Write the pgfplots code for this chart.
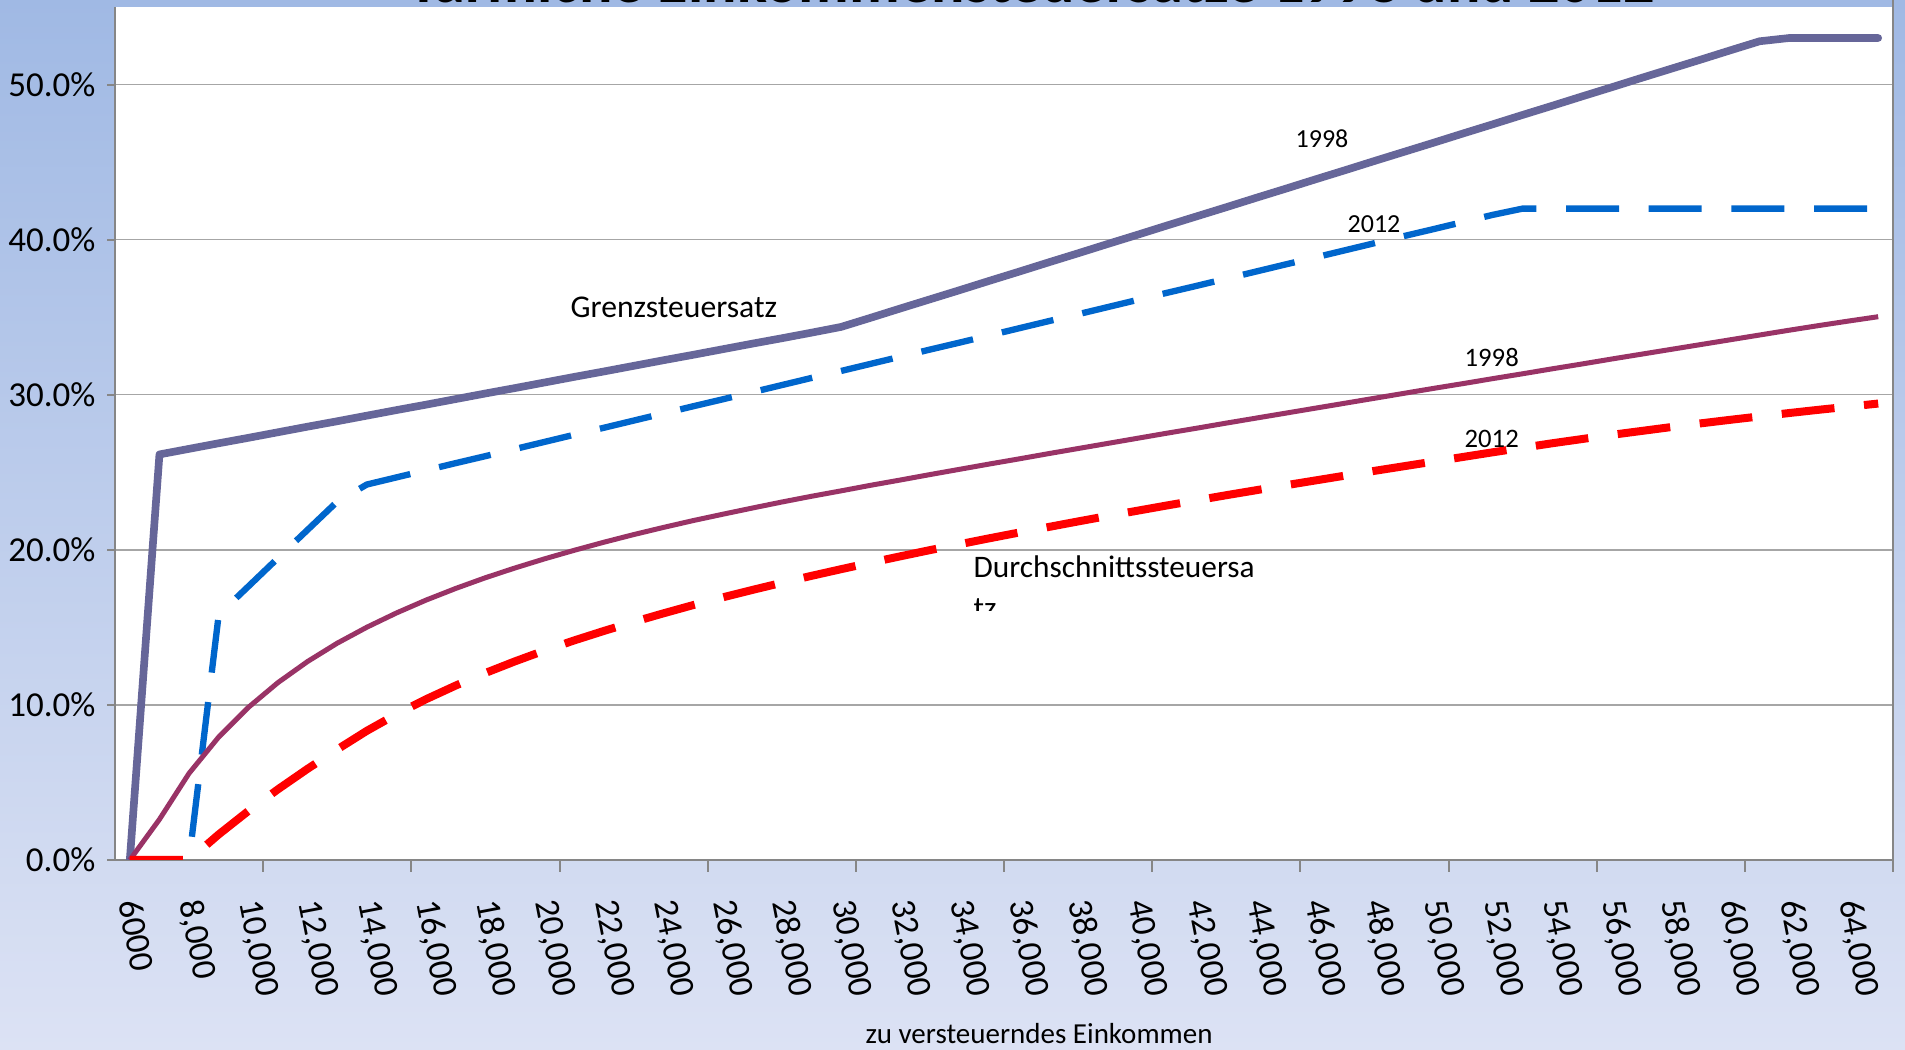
\documentclass[border=0pt]{standalone}
\usepackage{fontspec}
\setmainfont{Carlito}
\usepackage{pgfplots}
\pgfplotsset{compat=1.18}
\usepackage{pgfplotstable}

\definecolor{bgtop}{RGB}{160,185,228}
\definecolor{bgbot}{RGB}{220,226,244}
\definecolor{grenzalt}{RGB}{102,102,153}
\definecolor{grenzneu}{RGB}{0,102,204}
\definecolor{durchalt}{RGB}{153,51,102}
\definecolor{durchneu}{RGB}{255,0,0}
\definecolor{gridgray}{RGB}{166,166,166}
\definecolor{axisgray}{RGB}{134,134,134}

% income in EUR; marginal (g) and average (a) tax rates in percent, 1998 and 2012
\pgfplotstableread{
inc g98 g12 a98 a12
6000 0 0 0 0
7000 26.15 0 2.62 0
8000 26.51 0 5.59 0
9000 26.87 15.82 7.93 1.65
10000 27.22 17.64 9.84 3.16
11000 27.58 19.47 11.44 4.56
12000 27.94 21.29 12.80 5.88
13000 28.29 23.11 13.98 7.13
14000 28.65 24.21 15.01 8.33
15000 29.01 24.67 15.93 9.40
16000 29.36 25.13 16.76 10.37
17000 29.72 25.59 17.51 11.25
18000 30.08 26.04 18.20 12.06
19000 30.43 26.50 18.83 12.81
20000 30.79 26.96 19.42 13.51
21000 31.15 27.42 19.97 14.16
22000 31.50 27.87 20.49 14.77
23000 31.86 28.33 20.98 15.35
24000 32.22 28.79 21.44 15.90
25000 32.57 29.25 21.88 16.43
26000 32.93 29.70 22.29 16.93
27000 33.29 30.16 22.69 17.41
28000 33.64 30.62 23.08 17.87
29000 34.00 31.08 23.45 18.32
30000 34.37 31.53 23.80 18.75
31000 34.96 31.99 24.16 19.17
32000 35.56 32.45 24.50 19.58
33000 36.15 32.91 24.85 19.98
34000 36.74 33.36 25.19 20.36
35000 37.34 33.82 25.53 20.74
36000 37.93 34.28 25.86 21.11
37000 38.53 34.74 26.20 21.47
38000 39.12 35.19 26.53 21.83
39000 39.72 35.65 26.86 22.18
40000 40.31 36.11 27.19 22.52
41000 40.91 36.57 27.52 22.86
42000 41.50 37.02 27.84 23.19
43000 42.09 37.48 28.17 23.52
44000 42.69 37.94 28.49 23.84
45000 43.28 38.40 28.81 24.16
46000 43.88 38.85 29.13 24.47
47000 44.47 39.31 29.45 24.78
48000 45.07 39.77 29.77 25.09
49000 45.66 40.23 30.09 25.39
50000 46.25 40.68 30.41 25.69
51000 46.85 41.14 30.72 25.99
52000 47.44 41.60 31.04 26.29
53000 48.04 42.00 31.35 26.58
54000 48.63 42.00 31.67 26.87
55000 49.23 42.00 31.98 27.14
56000 49.82 42.00 32.30 27.41
57000 50.42 42.00 32.61 27.66
58000 51.01 42.00 32.92 27.91
59000 51.60 42.00 33.23 28.15
60000 52.20 42.00 33.54 28.38
61000 52.79 42.00 33.85 28.60
62000 53.00 42.00 34.16 28.82
63000 53.00 42.00 34.46 29.03
64000 53.00 42.00 34.75 29.23
65000 53.00 42.00 35.03 29.43
}\tarif

\begin{document}
\begin{tikzpicture}
\useasboundingbox (0,0) rectangle (571.5pt,315pt);
\shade[top color=bgtop, bottom color=bgbot] (0,0) rectangle (571.5pt,315pt);

\begin{axis}[
  at={(34.5pt,57pt)}, anchor=south west,
  scale only axis, width=533.4pt, height=255.9pt,
  xmin=5500, xmax=65500, ymin=0, ymax=55,
  axis x line*=bottom, axis y line*=left,
  axis line style={draw=axisgray, line width=0.6pt},
  axis background/.style={fill=white},
  tick align=outside,
  major tick length=2.4pt, minor tick length=3.6pt,
  xtick={6000,8000,...,64000},
  xticklabels={6000,{8,000},{10,000},{12,000},{14,000},{16,000},{18,000},{20,000},{22,000},{24,000},{26,000},{28,000},{30,000},{32,000},{34,000},{36,000},{38,000},{40,000},{42,000},{44,000},{46,000},{48,000},{50,000},{52,000},{54,000},{56,000},{58,000},{60,000},{62,000},{64,000}},
  minor xtick={10500,15500,...,65500},
  major x tick style={draw=none},
  minor x tick style={draw=axisgray, line width=0.6pt},
  major y tick style={draw=axisgray, line width=0.6pt},
  ytick={0,10,...,50},
  yticklabels={0.0\%,10.0\%,20.0\%,30.0\%,40.0\%,50.0\%},
  ymajorgrids,
  major grid style={draw=gridgray, line width=0.45pt},
  tick label style={font=\fontsize{10.5}{12.5}\selectfont},
  yticklabel style={anchor=east, inner sep=0pt, xshift=-3.3pt},
  xticklabel style={inner sep=0pt, yshift=-9.6pt, rotate=-79, anchor=west},
]
\addplot[grenzalt, mark=none, line width=2.3pt, line join=round, line cap=round] table[x=inc, y=g98] {\tarif};
\addplot[grenzneu, mark=none, line width=1.9pt, dash pattern=on 15.9pt off 8.9pt] table[x=inc, y=g12] {\tarif};
\addplot[durchalt, mark=none, line width=1.5pt, line join=round] table[x=inc, y=a98] {\tarif};
\addplot[durchneu, mark=none, line width=2.4pt, dash pattern=on 15.9pt off 8.9pt] table[x=inc, y=a12] {\tarif};
\end{axis}

% right border of the plot area
\draw[axisgray, line width=0.6pt] (567.9pt,57pt) -- (567.9pt,315pt);

% title, partly above the page edge
\begin{scope}
  \clip (0,0) rectangle (571.5pt,315pt);
  \node[anchor=base, inner sep=0pt, font=\fontsize{18.7}{22}\selectfont\bfseries] at (309.5pt,314.2pt) {Tarifliche Einkommensteuersätze 1998 und 2012};
\end{scope}

% curve labels
\node[anchor=base west, inner sep=0pt, font=\fontsize{9.5}{11}\selectfont] at (171pt,219.6pt) {Grenzsteuersatz};
\node[anchor=base west, inner sep=0pt, font=\fontsize{7.8}{9}\selectfont] at (388.5pt,270.6pt) {1998};
\node[anchor=base west, inner sep=0pt, font=\fontsize{7.8}{9}\selectfont] at (404.1pt,245.2pt) {2012};
\node[anchor=base west, inner sep=0pt, font=\fontsize{8}{9}\selectfont] at (439.2pt,204.9pt) {1998};
\node[anchor=base west, inner sep=0pt, font=\fontsize{8}{9}\selectfont] at (439.2pt,180.6pt) {2012};
\node[anchor=base west, inner sep=0pt, font=\fontsize{9.4}{11}\selectfont] at (291.9pt,141.6pt) {Durchschnittssteuersa};
\begin{scope}
  \clip (285pt,131.7pt) rectangle (320pt,140pt);
  \node[anchor=base west, inner sep=0pt, font=\fontsize{9.4}{11}\selectfont] at (291.9pt,129.3pt) {tz};
\end{scope}

% axis title
\node[anchor=base, inner sep=0pt, font=\fontsize{8.7}{10}\selectfont] at (311.7pt,1.8pt) {zu versteuerndes Einkommen};
\end{tikzpicture}
\end{document}
